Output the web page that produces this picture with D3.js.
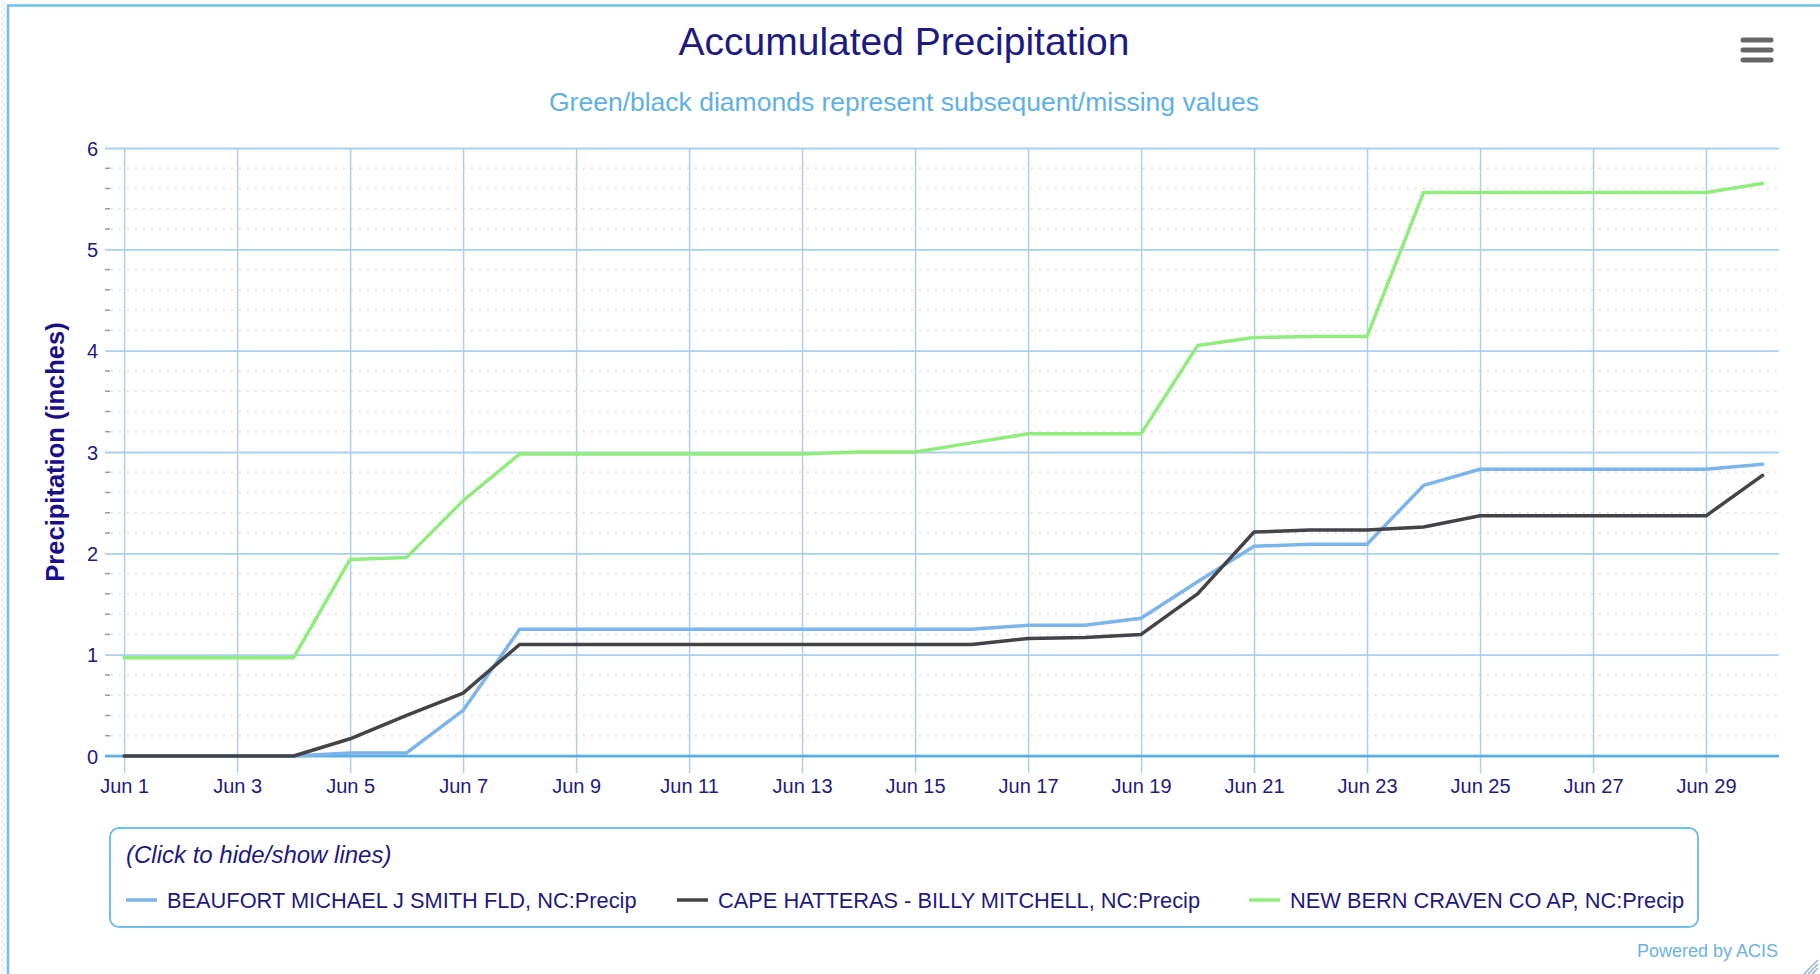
<!DOCTYPE html>
<html>
<head>
<meta charset="utf-8">
<script src="https://cdn.jsdelivr.net/npm/d3@7/dist/d3.min.js"></script>
<style>
  body { margin: 0; background: #fff; }
  svg { display: block; font-family: "Liberation Sans", Arial, sans-serif; }
</style>
</head>
<body>
<svg width="1820" height="974"></svg>
<script>
// days of June
const days = [1,2,3,4,5,6,7,8,9,10,11,12,13,14,15,16,17,18,19,20,21,22,23,24,25,26,27,28,29,30];

const beaufort = [0,0,0,0,0.03,0.03,0.45,1.25,1.25,1.25,1.25,1.25,1.25,1.25,1.25,1.25,
  1.29,1.29,1.36,1.72,2.07,2.09,2.09,2.67,2.83,2.83,2.83,2.83,2.83,2.88];
const hatteras = [0,0,0,0,0.17,0.40,0.62,1.10,1.10,1.10,1.10,1.10,1.10,1.10,1.10,1.10,
  1.16,1.17,1.20,1.60,2.21,2.23,2.23,2.26,2.37,2.37,2.37,2.37,2.37,2.77];
const newBern = [0.97,0.97,0.97,0.97,1.94,1.96,2.52,2.98,2.98,2.98,2.98,2.98,2.98,3.00,3.00,3.09,
  3.18,3.18,3.18,4.05,4.13,4.14,4.14,5.56,5.56,5.56,5.56,5.56,5.56,5.65];

const seriesNames = [
  "BEAUFORT MICHAEL J SMITH FLD, NC:Precip",
  "CAPE HATTERAS - BILLY MITCHELL, NC:Precip",
  "NEW BERN CRAVEN CO AP, NC:Precip"
];
const seriesColors = ["#7cb5ec", "#434348", "#90ed7d"];
const yTicks = [0, 1, 2, 3, 4, 5, 6];
const xTickDays = [1,3,5,7,9,11,13,15,17,19,21,23,25,27,29];

const series = [beaufort, hatteras, newBern].map((vals, i) => ({
  name: seriesNames[i],
  color: seriesColors[i],
  values: days.map((d, j) => ({ date: new Date(2019, 5, d), v: vals[j] }))
}));

const svg = d3.select("svg");
const navy = "#1d1a80";

// page background strip + container border
const defs = svg.append("defs");
const pat = defs.append("pattern")
  .attr("id", "zig").attr("width", 7).attr("height", 6)
  .attr("patternUnits", "userSpaceOnUse");
pat.append("path").attr("d", "M1,0 L5,3 L1,6")
  .attr("fill", "none").attr("stroke", "#e2e2e2").attr("stroke-width", 1);
svg.append("rect").attr("x", 0).attr("y", 0).attr("width", 7).attr("height", 974)
  .attr("fill", "url(#zig)");
svg.append("path").attr("d", "M8,974 V5.5 H1820")
  .attr("fill", "none").attr("stroke", "#6cbfee").attr("stroke-width", 2.5);

const plotLeft = 110, plotRight = 1779, plotTop = 148, plotBottom = 756;

const x = d3.scaleTime()
  .domain([d3.timeHour.offset(new Date(2019, 5, 1), -6), d3.timeHour.offset(new Date(2019, 5, 30), 7)])
  .range([plotLeft, plotRight]);
const y = d3.scaleLinear().domain([0, 6]).range([plotBottom, plotTop]);

// title
svg.append("text").attr("x", 904).attr("y", 55).attr("text-anchor", "middle")
  .attr("fill", navy).style("font-size", "39px").text("Accumulated Precipitation");
svg.append("text").attr("x", 904).attr("y", 111).attr("text-anchor", "middle")
  .attr("fill", "#5eb0e6").style("font-size", "26.5px")
  .text("Green/black diamonds represent subsequent/missing values");

// menu icon
svg.append("g").selectAll("line").data([40, 50, 60]).join("line")
  .attr("x1", 1743).attr("x2", 1771).attr("y1", d => d).attr("y2", d => d)
  .attr("stroke", "#666").attr("stroke-width", 5).attr("stroke-linecap", "round");

// minor dotted grid
const minor = d3.range(0, 6, 0.2).filter(v => Math.abs(v - Math.round(v)) > 0.01);
const gMinor = svg.append("g");
gMinor.selectAll("line.m").data(minor).join("line")
  .attr("x1", plotLeft + 1).attr("x2", plotRight).attr("y1", d => y(d)).attr("y2", d => y(d))
  .attr("stroke", "#d6d6d6").attr("stroke-width", 1.5).attr("stroke-dasharray", "1.5,6.5");
gMinor.append("g").selectAll("line").data(minor).join("line")
  .attr("x1", 105).attr("x2", 110).attr("y1", d => y(d)).attr("y2", d => y(d))
  .attr("stroke", "#999").attr("stroke-width", 1.5);

// major y grid
const yAxis = d3.axisLeft(y).tickValues(yTicks).tickSize(-(plotRight - 105)).tickPadding(12)
  .tickFormat(d3.format("d"));
const gy = svg.append("g").attr("transform", `translate(105,0)`).call(yAxis);
gy.select(".domain").remove();
gy.selectAll(".tick line").attr("stroke", "#a9d0ef").attr("stroke-width", 1.8);
gy.selectAll(".tick text").attr("fill", navy).style("font-size", "20px")
  .attr("font-family", null).attr("x", -7).attr("dy", "0.35em");

// x axis with vertical grid
const xAxis = d3.axisBottom(x)
  .tickValues(xTickDays.map(d => new Date(2019, 5, d)))
  .tickFormat(d3.timeFormat("%b %-d"))
  .tickSize(-(plotBottom - plotTop)).tickPadding(0);
const gx = svg.append("g").attr("transform", `translate(0,${plotBottom})`).call(xAxis);
gx.select(".domain").remove();
gx.selectAll(".tick line").attr("y2", 17).attr("y1", -(plotBottom - plotTop))
  .attr("stroke", "#a9d0ef").attr("stroke-width", 1.5);
gx.selectAll(".tick text").attr("fill", navy).style("font-size", "20px")
  .attr("font-family", null).attr("y", 37).attr("dy", 0);

// axis line at zero
svg.append("line").attr("x1", 105).attr("x2", plotRight).attr("y1", plotBottom).attr("y2", plotBottom)
  .attr("stroke", "#55aee6").attr("stroke-width", 2.5);

// y axis title
svg.append("text").attr("transform", "translate(64,452) rotate(-90)")
  .attr("text-anchor", "middle").attr("fill", "#1a0f8a")
  .style("font-size", "25.5px").style("font-weight", "bold")
  .text("Precipitation (inches)");

// lines
const line = d3.line().x(d => x(d.date)).y(d => y(d.v));
svg.append("g").selectAll("path").data(series).join("path")
  .attr("d", d => line(d.values))
  .attr("fill", "none").attr("stroke", d => d.color).attr("stroke-width", 3.5)
  .attr("stroke-linejoin", "round").attr("stroke-linecap", "round");

// legend
const lg = svg.append("g");
lg.append("rect").attr("x", 110).attr("y", 828).attr("width", 1588).attr("height", 99)
  .attr("rx", 9).attr("fill", "none").attr("stroke", "#6cbfee").attr("stroke-width", 2);
lg.append("text").attr("x", 126).attr("y", 863).attr("fill", navy)
  .style("font-size", "24px").style("font-style", "italic").text("(Click to hide/show lines)");
const itemX = [126, 677, 1249];
const item = lg.selectAll("g.item").data(series).join("g")
  .attr("transform", (d, i) => `translate(${itemX[i]},0)`);
item.append("line").attr("x1", 0).attr("x2", 31).attr("y1", 900).attr("y2", 900)
  .attr("stroke", d => d.color).attr("stroke-width", 3.5);
item.append("text").attr("x", 41).attr("y", 908).attr("fill", navy)
  .style("font-size", "21.8px").text(d => d.name);

// credits
svg.append("text").attr("x", 1778).attr("y", 957).attr("text-anchor", "end")
  .attr("fill", "#6ab2e4").style("font-size", "18px").text("Powered by ACIS");

// resize handle
svg.append("g").selectAll("line").data([0, 4, 8]).join("line")
  .attr("x1", d => 1804 + d).attr("y1", 974).attr("x2", 1818).attr("y2", d => 960 + d)
  .attr("stroke", "#9ab6cc").attr("stroke-width", 1.5);
</script>
</body>
</html>
